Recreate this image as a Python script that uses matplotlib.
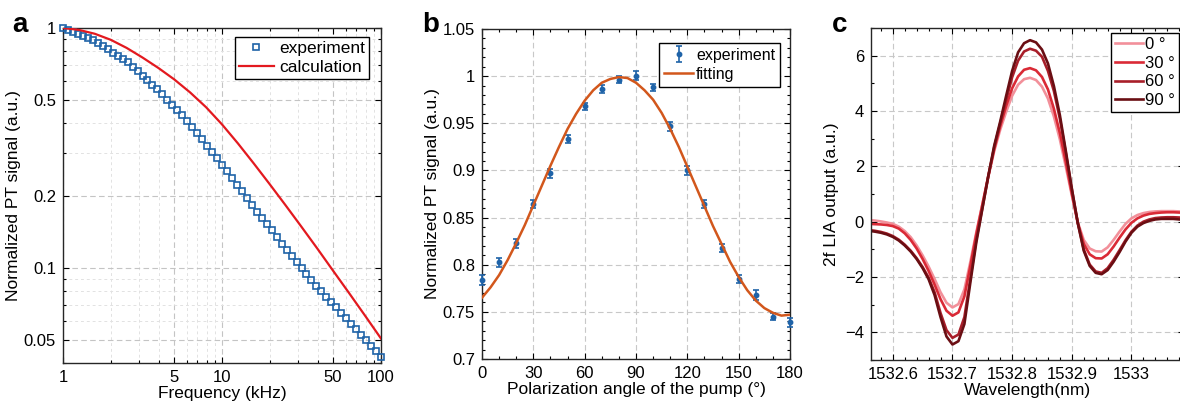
import numpy as np
import matplotlib
matplotlib.use("Agg")
import matplotlib.pyplot as plt
from matplotlib.ticker import FixedLocator, NullFormatter, LogLocator, MultipleLocator

plt.rcParams['font.family'] = ['Liberation Sans', 'DejaVu Sans']

# ---- panel a: frequency response ----
freq_exp = np.logspace(0, 2, 65)
signal_exp = [1.000, 0.980, 0.961, 0.942, 0.924, 0.906, 0.888, 0.865, 0.839, 0.814,
              0.789, 0.765, 0.742, 0.718, 0.688, 0.659, 0.631, 0.604, 0.579, 0.554,
              0.528, 0.502, 0.477, 0.454, 0.432, 0.410, 0.388, 0.365, 0.344, 0.323,
              0.304, 0.286, 0.269, 0.252, 0.236, 0.222, 0.208, 0.195, 0.182, 0.171,
              0.161, 0.152, 0.143, 0.134, 0.126, 0.119, 0.112, 0.106, 0.100, 0.0944,
              0.0891, 0.0841, 0.0798, 0.0757, 0.0719, 0.0682, 0.0648, 0.0614, 0.0583, 0.0554,
              0.0526, 0.0499, 0.0473, 0.0449, 0.0424]
freq_calc = [1, 1.259, 1.585, 1.995, 2.512, 3.162, 3.981, 5.012, 6.310, 7.943, 10,
             12.59, 15.85, 19.95, 25.12, 31.62, 39.81, 50.12, 63.10, 79.43, 100]
signal_calc = [1.0, 0.982, 0.946, 0.893, 0.826, 0.753, 0.681, 0.610, 0.538, 0.467, 0.396,
               0.330, 0.272, 0.223, 0.182, 0.148, 0.120, 0.0968, 0.0782, 0.0630, 0.0506]

# ---- panel b: polarization dependence ----
angle = [0, 10, 20, 30, 40, 50, 60, 70, 80, 90, 100, 110, 120, 130, 140, 150, 160, 170, 180]
pt_mean = [0.784, 0.8026, 0.8228, 0.8645, 0.897, 0.9332, 0.9679, 0.9863, 0.9962, 1.0004,
           0.988, 0.9466, 0.900, 0.8645, 0.8175, 0.7846, 0.768, 0.745, 0.739]
pt_err = [0.005, 0.005, 0.005, 0.004, 0.005, 0.004, 0.004, 0.004, 0.004, 0.005,
          0.004, 0.005, 0.005, 0.004, 0.004, 0.004, 0.005, 0.004, 0.005]
fit_angle = list(range(0, 181, 5))
fit_signal = [0.765, 0.776, 0.789, 0.805, 0.823, 0.842, 0.863, 0.884, 0.905, 0.925,
              0.944, 0.960, 0.974, 0.985, 0.993, 0.997, 0.999, 0.998, 0.993, 0.985,
              0.975, 0.961, 0.944, 0.925, 0.904, 0.883, 0.862, 0.841, 0.822, 0.803,
              0.787, 0.773, 0.762, 0.754, 0.749, 0.746, 0.747]

# ---- panel c: 2f LIA output ----
wavelength = np.round(np.arange(1532.56, 1533.085, 0.01), 2)
lia_0 = [0.06, 0.04, 0.01, -0.03, -0.08, -0.18, -0.34, -0.56, -0.86, -1.22,
         -1.62, -2.07, -2.55, -2.93, -3.10, -2.98, -2.45, -1.45, -0.38, 0.62,
         1.62, 2.55, 3.32, 3.97, 4.55, 4.95, 5.15, 5.20, 5.12, 4.88,
         4.45, 3.80, 2.97, 1.98, 0.95, -0.02, -0.66, -0.97, -1.07, -1.08,
         -0.93, -0.66, -0.36, -0.08, 0.12, 0.24, 0.31, 0.35, 0.37, 0.38,
         0.38, 0.38, 0.37]
lia_30 = [-0.08, -0.09, -0.10, -0.12, -0.16, -0.25, -0.42, -0.66, -0.97, -1.35,
          -1.78, -2.27, -2.80, -3.22, -3.40, -3.28, -2.70, -1.60, -0.45, 0.60,
          1.65, 2.62, 3.45, 4.18, 4.82, 5.25, 5.49, 5.55, 5.47, 5.23,
          4.78, 4.08, 3.20, 2.15, 1.02, -0.05, -0.80, -1.18, -1.32, -1.33,
          -1.18, -0.90, -0.58, -0.28, -0.04, 0.12, 0.22, 0.28, 0.31, 0.33,
          0.34, 0.34, 0.33]
lia_60 = [-0.30, -0.33, -0.37, -0.43, -0.52, -0.65, -0.83, -1.05, -1.32, -1.64,
          -2.02, -2.55, -3.30, -3.92, -4.20, -4.08, -3.45, -2.05, -0.65, 0.48,
          1.62, 2.70, 3.55, 4.40, 5.22, 5.82, 6.15, 6.25, 6.18, 5.96,
          5.45, 4.72, 3.72, 2.48, 1.18, -0.04, -1.00, -1.55, -1.80, -1.85,
          -1.68, -1.38, -1.03, -0.67, -0.36, -0.14, 0.00, 0.08, 0.13, 0.15,
          0.16, 0.16, 0.15]
lia_90 = [-0.33, -0.36, -0.40, -0.46, -0.55, -0.68, -0.86, -1.08, -1.35, -1.68,
          -2.08, -2.65, -3.45, -4.15, -4.44, -4.32, -3.70, -2.20, -0.75, 0.45,
          1.65, 2.75, 3.62, 4.55, 5.45, 6.12, 6.45, 6.56, 6.48, 6.22,
          5.72, 4.90, 3.85, 2.55, 1.20, -0.05, -1.05, -1.60, -1.85, -1.90,
          -1.75, -1.45, -1.10, -0.72, -0.40, -0.18, -0.05, 0.03, 0.08, 0.10,
          0.10, 0.10, 0.08]
lia_labels = ['0 °', '30 °', '60 °', '90 °']
lia_colors = ['#f2909a', '#da2a36', '#a81e29', '#6a0e13']

blue = '#1f63a8'
W, H = 1180, 407
fig = plt.figure(figsize=(W / 100, H / 100), dpi=100)


def px_axes(x0, x1, y0, y1):
    return fig.add_axes([x0 / W, 1 - y1 / H, (x1 - x0) / W, (y1 - y0) / H])


def matlab_style(ax):
    ax.tick_params(which='both', direction='in', top=True, right=True, labelsize=12, width=0.8)
    ax.tick_params(which='major', length=4, pad=5)
    ax.tick_params(which='minor', length=2)
    for s in ax.spines.values():
        s.set_linewidth(1.0)
        s.set_color('#262626')


legend_kw = dict(borderaxespad=0, fancybox=False, edgecolor='black', framealpha=1,
                 bbox_transform=fig.transFigure, loc='upper right')

# panel a
ax1 = px_axes(63, 381, 28, 363)
ax1.set_xscale('log')
ax1.set_yscale('log')
ax1.plot(freq_exp, signal_exp, 's', mfc='none', mec=blue, ms=4.2, mew=1.2,
         clip_on=False, label='experiment', zorder=3)
ax1.plot(freq_calc, signal_calc, '-', color='#e3191f', lw=1.6, label='calculation', zorder=4)
ax1.set_xlim(1, 100)
ax1.set_ylim(0.04, 1.0)
ax1.xaxis.set_major_locator(FixedLocator([1, 5, 10, 50, 100]))
ax1.xaxis.set_major_formatter(plt.FixedFormatter(['1', '5', '10', '50', '100']))
ax1.xaxis.set_minor_locator(LogLocator(base=10, subs=np.arange(2, 10)))
ax1.xaxis.set_minor_formatter(NullFormatter())
ax1.yaxis.set_major_locator(FixedLocator([0.05, 0.1, 0.2, 0.5, 1]))
ax1.yaxis.set_major_formatter(plt.FixedFormatter(['0.05', '0.1', '0.2', '0.5', '1']))
ax1.yaxis.set_minor_locator(LogLocator(base=10, subs=np.arange(2, 10)))
ax1.yaxis.set_minor_formatter(NullFormatter())
ax1.grid(True, which='major', ls=(0, (5, 3)), color='#c4c4c4', lw=0.8)
ax1.grid(True, which='minor', ls=(0, (3, 3)), color='#e2e2e2', lw=0.7)
ax1.set_axisbelow(True)
matlab_style(ax1)
ax1.set_xlabel('Frequency (kHz)', fontsize=12.5, labelpad=1)
ax1.set_ylabel('Normalized PT signal (a.u.)', fontsize=12.5, labelpad=2)
ax1.legend(bbox_to_anchor=(369 / W, 1 - 37 / H), fontsize=12.5, numpoints=1,
           handlelength=2.0, handletextpad=0.3, labelspacing=0.2, borderpad=0.25, **legend_kw)

# panel b
ax2 = px_axes(482, 790, 29, 359)
eb = ax2.errorbar(angle, pt_mean, yerr=pt_err, fmt='o', ms=3.2, color=blue, ecolor=blue,
                  elinewidth=1.2, capsize=2.2, capthick=1.2, clip_on=False, zorder=3)
fit_line, = ax2.plot(fit_angle, fit_signal, '-', color='#d2571c', lw=1.8, zorder=4)
ax2.set_xlim(0, 180)
ax2.set_ylim(0.7, 1.05)
ax2.xaxis.set_major_locator(MultipleLocator(30))
ax2.xaxis.set_minor_locator(MultipleLocator(10))
ax2.yaxis.set_major_locator(FixedLocator([0.7, 0.75, 0.8, 0.85, 0.9, 0.95, 1.0, 1.05]))
ax2.yaxis.set_major_formatter(plt.FixedFormatter(['0.7', '0.75', '0.8', '0.85', '0.9', '0.95', '1', '1.05']))
ax2.yaxis.set_minor_locator(MultipleLocator(0.01))
ax2.grid(True, which='major', ls=(0, (5, 3)), color='#c8c8c8', lw=0.8)
ax2.set_axisbelow(True)
matlab_style(ax2)
ax2.set_xlabel('Polarization angle of the pump (°)', fontsize=12.5, labelpad=1)
ax2.set_ylabel('Normalized PT signal (a.u.)', fontsize=12.5, labelpad=2)
ax2.legend([eb, fit_line], ['experiment', 'fitting'], bbox_to_anchor=(780 / W, 1 - 43 / H),
           fontsize=11.5, handlelength=1.8, handletextpad=0.2, labelspacing=0.25, borderpad=0.3,
           **legend_kw)

# panel c
ax3 = px_axes(871, 1184, 28, 360)
for ys, lab, col in zip([lia_0, lia_30, lia_60, lia_90], lia_labels, lia_colors):
    ax3.plot(wavelength, ys, '-', color=col, lw=1.9, label=lab)
ax3.set_xlim(1532.5635, 1533.088)
ax3.set_ylim(-5, 7)
ax3.xaxis.set_major_locator(FixedLocator([1532.6, 1532.7, 1532.8, 1532.9, 1533.0]))
ax3.xaxis.set_major_formatter(plt.FixedFormatter(['1532.6', '1532.7', '1532.8', '1532.9', '1533']))
ax3.xaxis.set_minor_locator(MultipleLocator(0.02))
ax3.yaxis.set_major_locator(FixedLocator([-4, -2, 0, 2, 4, 6]))
ax3.yaxis.set_minor_locator(MultipleLocator(1))
ax3.grid(True, which='major', ls=(0, (5, 3)), color='#c8c8c8', lw=0.8)
ax3.set_axisbelow(True)
matlab_style(ax3)
ax3.set_xlabel('Wavelength(nm)', fontsize=12.5, labelpad=1)
ax3.set_ylabel('2f LIA output (a.u.)', fontsize=12.5, labelpad=4)
ax3.legend(bbox_to_anchor=(1179 / W, 1 - 33 / H), fontsize=12, handlelength=1.7,
           handletextpad=0.1, labelspacing=0.22, borderpad=0.25, **legend_kw)

# panel letters
for x, label in [(12, 'a'), (422, 'b'), (832, 'c')]:
    fig.text(x / W, 1 - 12 / H, label, fontsize=20, fontweight='bold', va='top', ha='left')

fig.savefig('out.png', dpi=100)
